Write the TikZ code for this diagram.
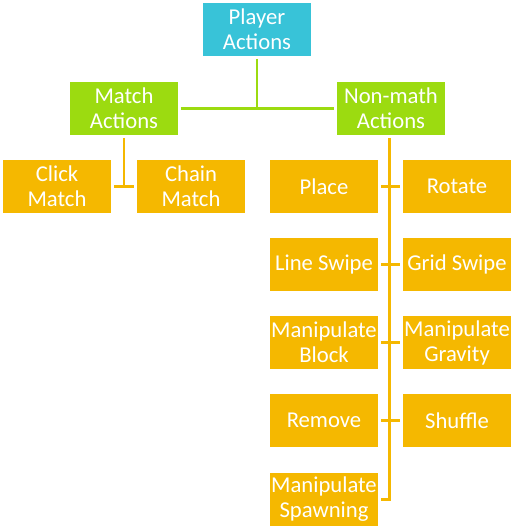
\documentclass[tikz,border=0pt]{standalone}
\usepackage{fontspec}
\setmainfont{Carlito}
\definecolor{cyanbox}{HTML}{38C3D8}
\definecolor{greenbox}{HTML}{9CDB10}
\definecolor{orangebox}{HTML}{F5B800}
\begin{document}
\begin{tikzpicture}[x=0.75pt,y=-0.75pt,
  box/.style={minimum width=81pt,minimum height=39.75pt,inner sep=0pt,align=center,text=white,
    font=\fontsize{17pt}{18.75pt}\selectfont},
  topbox/.style={box,fill=cyanbox},
  midbox/.style={box,fill=greenbox},
  leafbox/.style={box,fill=orangebox},
  gline/.style={draw=greenbox,line width=2.2pt},
  oline/.style={draw=orangebox,line width=2.2pt}]
\useasboundingbox (0,0) rectangle (513,528);
\node[topbox] (P) at (257,29.5) {Player\\Actions};
\node[midbox] (M) at (124,108.5) {Match\\Actions};
\node[midbox] (N) at (391,108.5) {Non-math\\Actions};
\node[leafbox] (CM) at (57,186.5) {Click\\Match};
\node[leafbox] (CH) at (191,186.5) {Chain\\Match};
\node[leafbox] (PL) at (324,186.5) {Place};
\node[leafbox] (RO) at (457,186.5) {Rotate};
\node[leafbox] (LS) at (324,264.5) {Line Swipe};
\node[leafbox] (GS) at (457,264.5) {Grid Swipe};
\node[leafbox] (MB) at (324,342.5) {Manipulate\\Block};
\node[leafbox] (MG) at (457,342.5) {Manipulate\\Gravity};
\node[leafbox] (RE) at (324,420.5) {Remove};
\node[leafbox] (SH) at (457,420.5) {Shuffle};
\node[leafbox] (MS) at (324,499.5) {Manipulate\\Spawning};
% green connectors
\draw[gline] ([yshift=-2pt]P.south) -- (P.south |- M.east);
\draw[gline] ([xshift=2pt]M.east) -- ([xshift=-2pt]N.west);
% match connectors
\draw[oline] ([yshift=-2pt]M.south) -- (M.south |- CM.east);
\draw[oline] ([xshift=2pt]CM.east) -- ([xshift=-2pt]CH.west);
% non-math connectors
\coordinate (NB) at ([xshift=-1pt]N.south |- MS.east);
\draw[oline] ([xshift=-1pt,yshift=-2pt]N.south) -- (NB) -- ([xshift=2pt]MS.east);
\draw[oline] ([xshift=2pt]PL.east) -- ([xshift=-2pt]RO.west);
\draw[oline] ([xshift=2pt]LS.east) -- ([xshift=-2pt]GS.west);
\draw[oline] ([xshift=2pt]MB.east) -- ([xshift=-2pt]MG.west);
\draw[oline] ([xshift=2pt]RE.east) -- ([xshift=-2pt]SH.west);
\end{tikzpicture}
\end{document}
